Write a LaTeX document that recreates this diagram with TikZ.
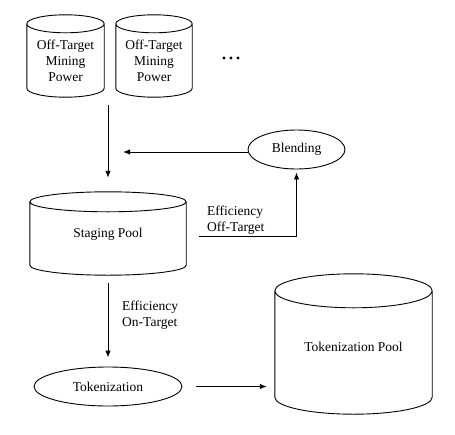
\documentclass[tikz,border=0pt]{standalone}
\usepackage{fontspec}
\setmainfont{Liberation Serif}
\usetikzlibrary{calc,arrows.meta,shapes.geometric}
\tikzset{
  cylbox/.style={rectangle,draw=none,inner sep=0pt},
  txt/.style={font=\fontsize{13.5}{15.8}\selectfont,inner sep=0pt,align=center},
  oval/.style={ellipse,draw,line width=0.9pt,inner sep=0pt,font=\fontsize{13.5}{15.8}\selectfont},
  arr/.style={line width=0.9pt,-{Latex[length=7pt,width=5.5pt]}},
  cylline/.style={line width=0.9pt}
}
\newcommand\mycyl[2]{%
  \draw[cylline] let \p1=(#1.north west),\p2=(#1.south east),\n1={(\x2-\x1)/2} in
    (\x1,{\y1-#2}) -- (\x1,{\y2+#2})
    arc[start angle=180,end angle=360,x radius=\n1,y radius=#2]
    -- (\x2,{\y1-#2})
    arc[start angle=0,end angle=180,x radius=\n1,y radius=#2]
    arc[start angle=180,end angle=360,x radius=\n1,y radius=#2];}
\begin{document}
\begin{tikzpicture}[x=1pt,y=-1pt]
\useasboundingbox (0,0) rectangle (455,434);
% top cylinders
\node[cylbox,minimum width=77pt,minimum height=82pt] (c1) at (65.5,56) {};
\mycyl{c1}{9pt}
\node[txt] (t1) at (65.5,61) {Off-Target\\Mining\\Power};
\node[cylbox,minimum width=76pt,minimum height=82pt] (c2) at (154,56) {};
\mycyl{c2}{9pt}
\node[txt] (t2) at (154,61) {Off-Target\\Mining\\Power};
\foreach \i/\xx in {1/224,2/231,3/238}{\fill (\xx,58) circle (1.6pt);}
% staging pool
\node[cylbox,minimum width=156pt,minimum height=83pt] (stage) at (108,233.5) {};
\mycyl{stage}{10pt}
\node[txt] (ts) at (108,234) {Staging Pool};
% tokenization pool
\node[cylbox,minimum width=157pt,minimum height=140pt] (tpool) at (353.5,344) {};
\mycyl{tpool}{17pt}
\node[txt] (tt) at (353.5,347) {Tokenization Pool};
% ellipses
\node[oval,minimum width=97pt,minimum height=39pt] (blend) at (296.5,149.5) {Blending};
\node[oval,minimum width=148pt,minimum height=39pt] (tok) at (108,386.5) {Tokenization};
% connectors
\coordinate (s1) at (108,105);
\draw[arr,shorten >=14pt] (s1) -- (s1 |- stage.north);
\coordinate (m1) at (123,152);
\draw[arr] (blend.west |- m1) -- (m1);
\coordinate (o1) at (199,236);
\draw[arr,shorten >=3pt] (o1) -| (blend.south);
\draw[arr,shorten <=8pt,shorten >=9pt] (stage.south) -- (tok.north);
\draw[arr,shorten <=14pt,shorten >=8pt] (tok.east) -- (tok.east -| tpool.west);
% labels
\node[txt,align=left,anchor=west] (l1) at (207,220) {Efficiency\\Off-Target};
\node[txt,align=left,anchor=west] (l2) at (122,315) {Efficiency\\On-Target};
\end{tikzpicture}
\end{document}
